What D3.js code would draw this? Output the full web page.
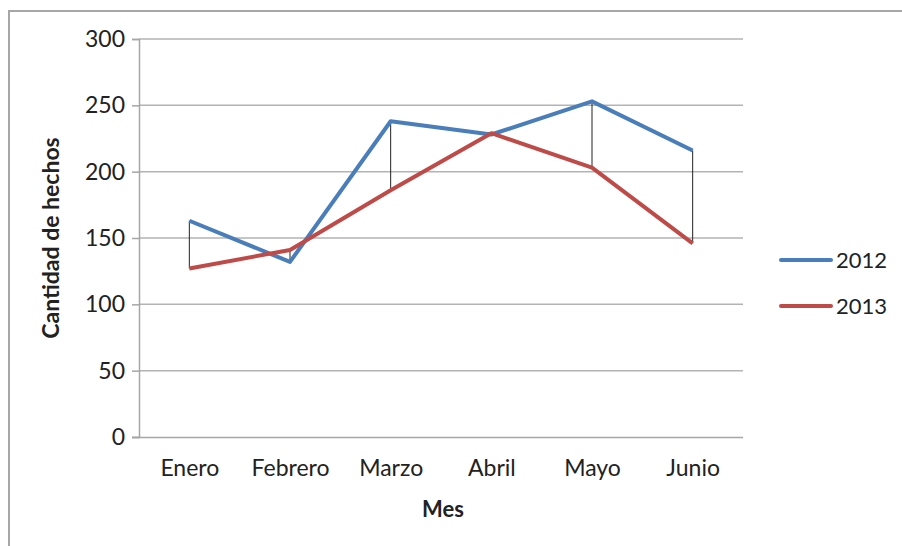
<!DOCTYPE html>
<html>
<head>
<meta charset="utf-8">
<style>
  body { margin: 0; background: #fff; }
  svg { display: block; }
  text { font-family: Lato, "Liberation Sans", sans-serif; fill: #222; }
</style>
</head>
<body>
<div id="chart"></div>
<script src="https://cdnjs.cloudflare.com/ajax/libs/d3/7.8.5/d3.min.js"></script>
<script>
// data
const months = ["Enero", "Febrero", "Marzo", "Abril", "Mayo", "Junio"];
const values2012 = [163, 132, 238, 228, 253, 216];
const values2013 = [127, 141, 186, 229, 203, 146];
const yTicks = [0, 50, 100, 150, 200, 250, 300];
const seriesNames = ["2012", "2013"];
const seriesColors = ["#4a7ebb", "#be4b48"];

const width = 902, height = 546;
const plot = { left: 139, right: 743, top: 39, bottom: 437 };

const svg = d3.select("#chart").append("svg")
    .attr("width", width)
    .attr("height", height);

// outer chart frame (only top and left edges visible in the crop)
svg.append("path")
    .attr("d", `M9,${height} V11 H${width}`)
    .attr("fill", "none")
    .attr("stroke", "#a6a6a6")
    .attr("stroke-width", 2);

const x = d3.scalePoint()
    .domain(months)
    .range([plot.left, plot.right])
    .padding(0.5);

const y = d3.scaleLinear()
    .domain([0, 300])
    .range([plot.bottom, plot.top]);

// gridlines
svg.append("g")
    .selectAll("line")
    .data(yTicks.filter(d => d > 0))
    .join("line")
    .attr("x1", plot.left)
    .attr("x2", plot.right)
    .attr("y1", d => y(d))
    .attr("y2", d => y(d))
    .attr("stroke", "#b3b3b3")
    .attr("stroke-width", 1.5);

// y axis
const yAxis = svg.append("g")
    .attr("transform", `translate(${plot.left},0)`)
    .call(d3.axisLeft(y).tickValues(yTicks).tickSize(7).tickPadding(7));
yAxis.select(".domain").attr("stroke", "#a6a6a6").attr("stroke-width", 1.5);
yAxis.selectAll(".tick line").attr("stroke", "#a6a6a6").attr("stroke-width", 1.5);
yAxis.selectAll(".tick text")
    .attr("font-size", 23)
    .style("font-family", "Lato, 'Liberation Sans', sans-serif")
    .attr("fill", "#222");

// x axis
const xAxis = svg.append("g")
    .attr("transform", `translate(0,${plot.bottom})`)
    .call(d3.axisBottom(x).tickSize(0).tickPadding(23));
xAxis.select(".domain")
    .attr("d", `M${plot.left - 7},0.5H${plot.right}`)
    .attr("stroke", "#a6a6a6").attr("stroke-width", 1.5);
xAxis.selectAll(".tick text")
    .attr("font-size", 23)
    .style("font-family", "Lato, 'Liberation Sans', sans-serif")
    .attr("fill", "#222");

// axis titles
svg.append("text")
    .attr("text-anchor", "middle")
    .attr("transform", `translate(59,${(plot.top + plot.bottom) / 2}) rotate(-90)`)
    .attr("font-size", 23)
    .attr("font-weight", "bold")
    .text("Cantidad de hechos");

svg.append("text")
    .attr("x", 443)
    .attr("y", 517)
    .attr("text-anchor", "middle")
    .attr("font-size", 22)
    .attr("font-weight", "bold")
    .text("Mes");

// high-low lines
svg.append("g")
    .selectAll("line")
    .data(months.map((m, i) => ({ m, a: values2012[i], b: values2013[i] })))
    .join("line")
    .attr("x1", d => x(d.m))
    .attr("x2", d => x(d.m))
    .attr("y1", d => y(d.a))
    .attr("y2", d => y(d.b))
    .attr("stroke", "#222")
    .attr("stroke-width", 1);

// series lines
const line = d3.line()
    .x((d, i) => x(months[i]))
    .y(d => y(d));

[values2012, values2013].forEach((vals, i) => {
    svg.append("path")
        .datum(vals)
        .attr("d", line)
        .attr("fill", "none")
        .attr("stroke", seriesColors[i])
        .attr("stroke-width", 4)
        .attr("stroke-linejoin", "round");
});

// legend
const legend = svg.append("g");
seriesNames.forEach((name, i) => {
    const ly = 260 + i * 46;
    legend.append("line")
        .attr("x1", 781).attr("x2", 831)
        .attr("y1", ly).attr("y2", ly)
        .attr("stroke", seriesColors[i])
        .attr("stroke-width", 4)
        .attr("stroke-linecap", "round");
    legend.append("text")
        .attr("x", 836)
        .attr("y", ly)
        .attr("dy", "0.35em")
        .attr("font-size", 22)
        .text(name);
});
</script>
</body>
</html>
